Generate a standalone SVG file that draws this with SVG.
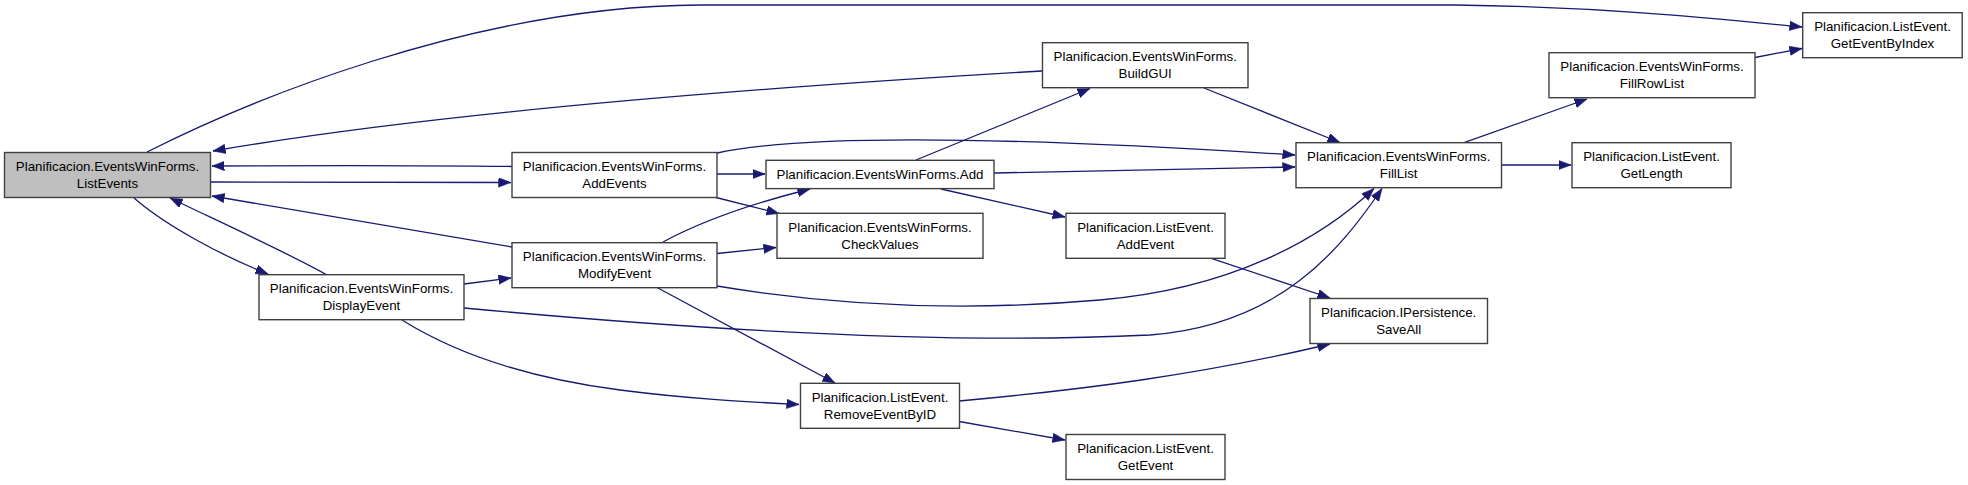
<svg xmlns="http://www.w3.org/2000/svg" width="1968" height="485" viewBox="0 0 1968 485">
<defs>
<style>
.node rect{fill:#ffffff;stroke:#404040;stroke-width:1.4}
.node.cur rect{fill:#bfbfbf}
.node text{font-family:"Liberation Sans",Arial,sans-serif;font-size:13.3px;fill:#000;text-anchor:middle}
.edges path{fill:none;stroke:#191970;stroke-width:1.3;marker-end:url(#ah)}
</style>
<marker id="ah" markerUnits="userSpaceOnUse" markerWidth="14" markerHeight="11" refX="12.5" refY="4.75" orient="auto">
<path d="M0,0 L12.5,4.75 L0,9.5 z" fill="#191970" stroke="#191970" stroke-width="0.5"/>
</marker>
</defs>
<rect width="1968" height="485" fill="#ffffff"/>
<g id="connectors" class="edges">
<path d="M147,152 C240,105 470,6 700,5 L1455,5 C1600,7 1700,17 1802,27"/>
<path d="M1042,71 C800,85 450,110 213,151"/>
<path d="M512,166.5 C400,165 300,165.5 212,166"/>
<path d="M211,182 C300,181.5 400,182 511,182.5"/>
<path d="M512,247 L212,196"/>
<path d="M327,275 C290,254 220,222 170,198"/>
<path d="M134,198 C165,225 220,255 268,274"/>
<path d="M464,284 L511,278"/>
<path d="M717,174 L765,174"/>
<path d="M717,153 C800,135 1000,136 1295,155"/>
<path d="M714,197 L779,213.5"/>
<path d="M916,160 L1090,88.5"/>
<path d="M994,173 L1295,167"/>
<path d="M941,189 L1065,217"/>
<path d="M1204,88 L1340,142.5"/>
<path d="M663,242 C700,222 750,204 810,189"/>
<path d="M717,253.5 L776,247.5"/>
<path d="M717,286 C830,305 960,312 1100,300 C1230,289 1320,240 1374,188.5"/>
<path d="M464,308 C700,330 950,345 1150,335 C1280,325 1340,250 1382,188.5"/>
<path d="M657,287.5 L835,383"/>
<path d="M402,320 C450,350 520,377 620,390 C690,399 750,402 799,404.5"/>
<path d="M959,401 C1080,390 1200,375 1330,344"/>
<path d="M959,421.5 L1065,440"/>
<path d="M1212,258.7 L1330,298"/>
<path d="M1464,142.7 L1587,99"/>
<path d="M1501,165 L1571,165"/>
<path d="M1755,57.5 L1802,48.5"/>
</g>
<g id="n-listevents" class="node cur"><rect x="4.5" y="152.5" width="206" height="45"/><text x="107.5" y="171">Planificacion.EventsWinForms.</text><text x="107.5" y="187.7">ListEvents</text></g>
<g id="n-addevents" class="node"><rect x="512" y="152.5" width="205" height="45"/><text x="614.5" y="171">Planificacion.EventsWinForms.</text><text x="614.5" y="187.7">AddEvents</text></g>
<g id="n-modifyevent" class="node"><rect x="512" y="242.7" width="205" height="45"/><text x="614.5" y="261.2">Planificacion.EventsWinForms.</text><text x="614.5" y="277.9">ModifyEvent</text></g>
<g id="n-displayevent" class="node"><rect x="259" y="274.7" width="205" height="45"/><text x="361.5" y="293.2">Planificacion.EventsWinForms.</text><text x="361.5" y="309.9">DisplayEvent</text></g>
<g id="n-buildgui" class="node"><rect x="1042.5" y="42.7" width="205.5" height="45"/><text x="1145.2" y="61.2">Planificacion.EventsWinForms.</text><text x="1145.2" y="77.9">BuildGUI</text></g>
<g id="n-add" class="node"><rect x="766" y="160.3" width="228" height="28.3"/><text x="880" y="179">Planificacion.EventsWinForms.Add</text></g>
<g id="n-checkvalues" class="node"><rect x="777" y="213.3" width="206" height="45"/><text x="880" y="231.8">Planificacion.EventsWinForms.</text><text x="880" y="248.5">CheckValues</text></g>
<g id="n-addevent" class="node"><rect x="1066" y="213.3" width="159" height="45"/><text x="1145.5" y="231.8">Planificacion.ListEvent.</text><text x="1145.5" y="248.5">AddEvent</text></g>
<g id="n-removeeventbyid" class="node"><rect x="800.5" y="383.3" width="159" height="45"/><text x="880" y="401.8">Planificacion.ListEvent.</text><text x="880" y="418.5">RemoveEventByID</text></g>
<g id="n-getevent" class="node"><rect x="1066" y="434.5" width="159" height="45"/><text x="1145.5" y="453">Planificacion.ListEvent.</text><text x="1145.5" y="469.7">GetEvent</text></g>
<g id="n-filllist" class="node"><rect x="1296" y="142.7" width="205.5" height="45"/><text x="1398.7" y="161.2">Planificacion.EventsWinForms.</text><text x="1398.7" y="177.9">FillList</text></g>
<g id="n-saveall" class="node"><rect x="1310" y="298.5" width="177.5" height="45"/><text x="1398.7" y="317">Planificacion.IPersistence.</text><text x="1398.7" y="333.7">SaveAll</text></g>
<g id="n-fillrowlist" class="node"><rect x="1549" y="52.7" width="206" height="45"/><text x="1652" y="71.2">Planificacion.EventsWinForms.</text><text x="1652" y="87.9">FillRowList</text></g>
<g id="n-getlength" class="node"><rect x="1572" y="142.7" width="159" height="45"/><text x="1651.5" y="161.2">Planificacion.ListEvent.</text><text x="1651.5" y="177.9">GetLength</text></g>
<g id="n-geteventbyindex" class="node"><rect x="1802.7" y="12.7" width="159.5" height="45"/><text x="1882.5" y="31.2">Planificacion.ListEvent.</text><text x="1882.5" y="47.9">GetEventByIndex</text></g>
</svg>
